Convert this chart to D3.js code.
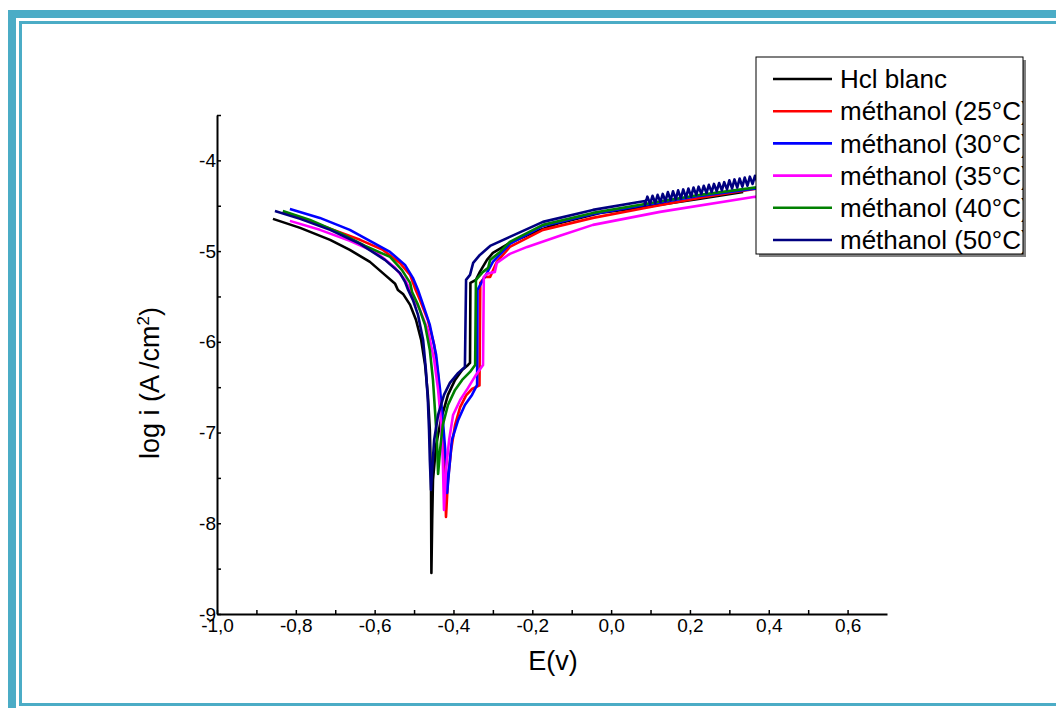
<!DOCTYPE html>
<html>
<head>
<meta charset="utf-8">
<script src="https://cdn.jsdelivr.net/npm/d3@7"></script>
<style>
  html, body { margin: 0; padding: 0; background: #ffffff; }
  svg { display: block; font-family: "Liberation Sans", Arial, sans-serif; }
</style>
</head>
<body>
<svg id="chart" width="1056" height="708"></svg>
<script>
// Polarisation curves (Tafel plots): potential E (V) vs log i (A/cm²)
const seriesNames = ["Hcl blanc", "méthanol (25°C)", "méthanol (30°C)", "méthanol (35°C)", "méthanol (40°C)", "méthanol (50°C)"];
const seriesColors = ["#000000", "#ff0000", "#0000ff", "#ff00ff", "#008000", "#000080"];

const xTickValues = [-1.0, -0.8, -0.6, -0.4, -0.2, 0.0, 0.2, 0.4, 0.6];
const xMinorTicks = [-0.9, -0.7, -0.5, -0.3, -0.1, 0.1, 0.3, 0.5];
const yTickValues = [-9, -8, -7, -6, -5, -4];
const yMinorTicks = [-8.5, -7.5, -6.5, -5.5, -4.5, -3.5];

// Each curve: [E (V), log i]
const hclBlanc = [
  [-0.858, -4.645], [-0.789, -4.744], [-0.713, -4.876], [-0.663, -4.987], [-0.612, -5.119],
  [-0.574, -5.262], [-0.548, -5.361], [-0.541, -5.428], [-0.528, -5.472], [-0.510, -5.593],
  [-0.495, -5.759], [-0.482, -5.979], [-0.472, -6.255], [-0.465, -6.585], [-0.460, -6.971],
  [-0.457, -7.523], [-0.456, -8.548], [-0.454, -7.964], [-0.452, -7.523], [-0.444, -7.137],
  [-0.432, -6.861], [-0.414, -6.585], [-0.396, -6.420], [-0.378, -6.310], [-0.363, -6.255],
  [-0.358, -6.233], [-0.357, -5.350], [-0.343, -5.317], [-0.333, -5.229], [-0.315, -5.097],
  [-0.300, -5.020], [-0.257, -4.910], [-0.180, -4.766], [-0.130, -4.689], [-0.028, -4.579],
  [0.086, -4.513], [0.226, -4.424], [0.335, -4.347]
];

const meth25 = [
  [-0.833, -4.568], [-0.739, -4.711], [-0.637, -4.876], [-0.579, -4.987], [-0.536, -5.130],
  [-0.510, -5.262], [-0.498, -5.406], [-0.485, -5.538], [-0.465, -5.759], [-0.449, -6.034],
  [-0.439, -6.365], [-0.432, -6.751], [-0.427, -7.082], [-0.421, -7.523], [-0.419, -7.931],
  [-0.414, -7.523], [-0.406, -7.192], [-0.396, -6.916], [-0.383, -6.720], [-0.368, -6.590],
  [-0.353, -6.520], [-0.334, -6.480], [-0.332, -5.350], [-0.320, -5.284], [-0.307, -5.284],
  [-0.290, -5.119], [-0.257, -4.954], [-0.173, -4.766], [-0.046, -4.634], [0.086, -4.524],
  [0.226, -4.413], [0.398, -4.292]
];

const meth30 = [
  [-0.815, -4.535], [-0.739, -4.634], [-0.663, -4.766], [-0.561, -5.009], [-0.523, -5.152],
  [-0.503, -5.295], [-0.490, -5.428], [-0.477, -5.593], [-0.460, -5.814], [-0.444, -6.144],
  [-0.434, -6.530], [-0.427, -6.861], [-0.421, -7.192], [-0.416, -7.666], [-0.411, -7.412],
  [-0.404, -7.082], [-0.388, -6.861], [-0.371, -6.696], [-0.353, -6.585], [-0.340, -6.475],
  [-0.339, -5.428], [-0.328, -5.339], [-0.315, -5.240], [-0.300, -5.119], [-0.257, -4.921],
  [-0.173, -4.722], [-0.046, -4.590], [0.086, -4.491], [0.226, -4.391], [0.398, -4.292]
];

const meth35 = [
  [-0.815, -4.667], [-0.739, -4.766], [-0.663, -4.887], [-0.594, -5.020], [-0.548, -5.185],
  [-0.523, -5.317], [-0.510, -5.428], [-0.503, -5.505], [-0.485, -5.648], [-0.465, -5.869],
  [-0.449, -6.200], [-0.439, -6.530], [-0.432, -6.861], [-0.427, -7.302], [-0.424, -7.853],
  [-0.419, -7.412], [-0.411, -7.082], [-0.401, -6.806], [-0.383, -6.641], [-0.363, -6.508],
  [-0.343, -6.365], [-0.325, -6.255], [-0.323, -5.284], [-0.315, -5.251], [-0.295, -5.229],
  [-0.290, -5.130], [-0.257, -5.031], [-0.213, -4.954], [-0.130, -4.832], [-0.046, -4.711],
  [0.124, -4.568], [0.365, -4.402], [0.398, -4.391]
];

const meth40 = [
  [-0.833, -4.557], [-0.764, -4.656], [-0.688, -4.799], [-0.624, -4.943], [-0.561, -5.064],
  [-0.531, -5.207], [-0.510, -5.350], [-0.505, -5.450], [-0.490, -5.593], [-0.472, -5.814],
  [-0.460, -6.089], [-0.452, -6.420], [-0.447, -6.751], [-0.442, -7.082], [-0.439, -7.456],
  [-0.434, -7.192], [-0.427, -6.916], [-0.414, -6.696], [-0.396, -6.530], [-0.378, -6.420],
  [-0.358, -6.332], [-0.345, -6.255], [-0.343, -5.317], [-0.325, -5.229], [-0.312, -5.185],
  [-0.307, -5.097], [-0.282, -5.009], [-0.257, -4.899], [-0.173, -4.711], [-0.046, -4.579],
  [0.086, -4.480], [0.226, -4.380], [0.398, -4.281]
];

const meth50 = [
  [-0.853, -4.557], [-0.789, -4.645], [-0.713, -4.766], [-0.637, -4.921], [-0.574, -5.097],
  [-0.536, -5.240], [-0.523, -5.339], [-0.515, -5.428], [-0.503, -5.538], [-0.490, -5.703],
  [-0.477, -5.979], [-0.470, -6.310], [-0.465, -6.641], [-0.462, -6.971], [-0.460, -7.302],
  [-0.457, -7.633], [-0.454, -7.412], [-0.449, -7.082], [-0.439, -6.806], [-0.424, -6.585],
  [-0.409, -6.453], [-0.388, -6.343], [-0.371, -6.277], [-0.368, -5.317], [-0.358, -5.262],
  [-0.350, -5.130], [-0.333, -5.042], [-0.307, -4.943], [-0.257, -4.843], [-0.173, -4.678],
  [-0.046, -4.546], [0.086, -4.447],
  // noisy anodic tail
  [0.086, -4.49], [0.092, -4.40], [0.099, -4.48], [0.105, -4.39], [0.112, -4.47], [0.118, -4.38],
  [0.125, -4.46], [0.131, -4.37], [0.138, -4.45], [0.144, -4.35], [0.151, -4.44], [0.157, -4.34],
  [0.164, -4.43], [0.170, -4.33], [0.177, -4.42], [0.183, -4.32], [0.190, -4.41], [0.196, -4.31],
  [0.203, -4.40], [0.209, -4.30], [0.216, -4.38], [0.222, -4.29], [0.229, -4.37], [0.235, -4.28],
  [0.242, -4.36], [0.248, -4.27], [0.255, -4.35], [0.261, -4.26], [0.268, -4.34], [0.274, -4.25],
  [0.281, -4.33], [0.287, -4.24], [0.294, -4.32], [0.300, -4.22], [0.307, -4.31], [0.313, -4.21],
  [0.320, -4.30], [0.326, -4.20], [0.333, -4.29], [0.339, -4.19], [0.346, -4.28], [0.352, -4.18],
  [0.359, -4.26], [0.365, -4.17], [0.372, -4.25], [0.378, -4.16]
];

const seriesData = [hclBlanc, meth25, meth30, meth35, meth40, meth50];

const svg = d3.select("#chart");
const frameColor = "#4bacc6";

// Page frame: thick outer band and thin inner rule
svg.append("rect").attr("x", 12).attr("y", 14).attr("width", 1100).attr("height", 800)
  .attr("fill", "none").attr("stroke", frameColor).attr("stroke-width", 8);
svg.append("rect").attr("x", 20.5).attr("y", 22.5).attr("width", 1100).attr("height", 682)
  .attr("fill", "none").attr("stroke", frameColor).attr("stroke-width", 3);

const x = d3.scaleLinear().domain([-1.0, 0.7]).range([217, 887]);
const y = d3.scaleLinear().domain([-9, -3.5]).range([614, 115]);

const fmt = v => d3.format(".1f")(v).replace(".", ",").replace("−", "-");

// Curves
const line = d3.line().x(d => x(d[0])).y(d => y(d[1]));
svg.append("g").selectAll("path").data(seriesData).join("path")
  .attr("d", line)
  .attr("fill", "none")
  .attr("stroke", (d, i) => seriesColors[i])
  .attr("stroke-width", 2.6)
  .attr("stroke-linejoin", "round");

// X axis
svg.append("g").attr("transform", "translate(0,614)")
  .call(d3.axisBottom(x).tickValues(xTickValues).tickFormat(fmt)
    .tickSizeInner(-4).tickSizeOuter(0).tickPadding(5));
svg.append("g").attr("transform", "translate(0,614)")
  .call(d3.axisBottom(x).tickValues(xMinorTicks).tickFormat("").tickSizeInner(-4).tickSizeOuter(0))
  .call(g => g.select(".domain").remove());

// Y axis
svg.append("g").attr("transform", "translate(217,0)")
  .call(d3.axisLeft(y).tickValues(yTickValues).tickFormat(d => String(d).replace("−", "-"))
    .tickSizeInner(-4).tickSizeOuter(0).tickPadding(1));
svg.append("g").attr("transform", "translate(217,0)")
  .call(d3.axisLeft(y).tickValues(yMinorTicks).tickFormat("").tickSizeInner(-4).tickSizeOuter(0))
  .call(g => g.select(".domain").remove());

svg.selectAll(".domain").attr("stroke", "#000").attr("stroke-width", 2);
svg.selectAll(".tick line").attr("stroke", "#000").attr("stroke-width", 1.5);
svg.selectAll(".tick text").attr("font-family", "Liberation Sans, Arial, sans-serif")
  .attr("font-size", 19).attr("fill", "#000");

// Axis titles
svg.append("text").attr("x", 553).attr("y", 670).attr("text-anchor", "middle")
  .attr("font-size", 27).attr("fill", "#000").text("E(v)");

const yTitle = svg.append("text")
  .attr("transform", "translate(159,383) rotate(-90)")
  .attr("text-anchor", "middle").attr("font-size", 27).attr("fill", "#000");
yTitle.append("tspan").text("log i (A /cm");
yTitle.append("tspan").attr("font-size", 17).attr("dy", -10).text("2");
yTitle.append("tspan").attr("dy", 10).text(")");

// Legend
const lg = { x: 756, y: 57, w: 267, h: 197, row0: 79, rowStep: 32.2 };
svg.append("rect").attr("x", lg.x + 3).attr("y", lg.y + 3).attr("width", lg.w).attr("height", lg.h)
  .attr("fill", "#808080");
svg.append("rect").attr("x", lg.x).attr("y", lg.y).attr("width", lg.w).attr("height", lg.h)
  .attr("fill", "#ffffff").attr("stroke", "#000").attr("stroke-width", 1);
svg.append("clipPath").attr("id", "legendClip")
  .append("rect").attr("x", lg.x).attr("y", lg.y).attr("width", lg.w).attr("height", lg.h);
const legend = svg.append("g").attr("clip-path", "url(#legendClip)");
const rows = legend.selectAll("g").data(seriesNames).join("g")
  .attr("transform", (d, i) => `translate(0,${lg.row0 + i * lg.rowStep})`);
rows.append("line").attr("x1", 773).attr("x2", 832).attr("y1", 0).attr("y2", 0)
  .attr("stroke", (d, i) => seriesColors[i]).attr("stroke-width", 2.6);
rows.append("text").attr("x", 840).attr("y", 0).attr("dy", "0.35em")
  .attr("font-size", 26).attr("fill", "#000").text(d => d);
</script>
</body>
</html>
